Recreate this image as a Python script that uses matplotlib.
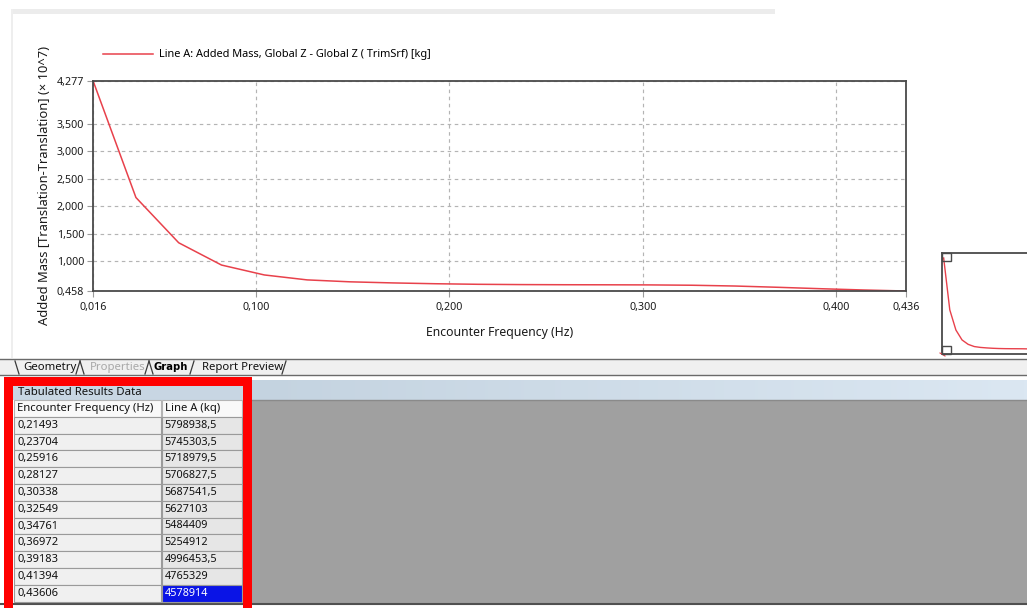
import matplotlib
matplotlib.use('Agg')
import matplotlib.pyplot as plt
from matplotlib.patches import Rectangle
from matplotlib.ticker import FixedLocator, FixedFormatter
import numpy as np

# ---------------- data ----------------
freq_hz = [0.01591, 0.03803, 0.06014, 0.08225, 0.10437, 0.12648, 0.14859, 0.17071, 0.19282,
           0.21493, 0.23704, 0.25916, 0.28127, 0.30338, 0.32549, 0.34761, 0.36972, 0.39183,
           0.41394, 0.43606]
added_mass_kg = [42770000, 21580000, 13350000, 9300000, 7500000, 6600000, 6250000, 6050000,
                 5900000, 5798938.5, 5745303.5, 5718979.5, 5706827.5, 5687541.5, 5627103,
                 5484409, 5254912, 4996453.5, 4765329, 4578914]
table_freq = ['0,21493', '0,23704', '0,25916', '0,28127', '0,30338', '0,32549', '0,34761',
              '0,36972', '0,39183', '0,41394', '0,43606']
table_mass = ['5798938,5', '5745303,5', '5718979,5', '5706827,5', '5687541,5', '5627103',
              '5484409', '5254912', '4996453,5', '4765329', '4578914']
x_ticks = [0.016, 0.100, 0.200, 0.300, 0.400, 0.436]
y_ticks = [0.458, 1.000, 1.500, 2.000, 2.500, 3.000, 3.500, 4.277]
tab_names = ['Geometry', 'Properties', 'Graph', 'Report Preview']
legend_label = 'Line A: Added Mass, Global Z - Global Z ( TrimSrf) [kg]'
x_label = 'Encounter Frequency (Hz)'
y_label = 'Added Mass [Translation-Translation] (× 10^7)'
table_title = 'Tabulated Results Data'
table_cols = ['Encounter Frequency (Hz)', 'Line A (kq)']

# ---------------- figure ----------------
plt.rcParams['font.family'] = ['Noto Sans', 'DejaVu Sans']
W, H = 1027, 608
fig = plt.figure(figsize=(W / 100, H / 100), dpi=100)
fig.patch.set_facecolor('white')


def box(x0, y0, x1, y1):
    return [x0 / W, 1 - y1 / H, (x1 - x0) / W, (y1 - y0) / H]


bg = fig.add_axes([0, 0, 1, 1], zorder=0)
bg.set_xlim(0, W)
bg.set_ylim(H, 0)
bg.axis('off')


def rect(x0, y0, x1, y1, fc, ec='none', lw=0, ax=None, z=1):
    ax = ax or bg
    ax.add_patch(Rectangle((x0, y0), x1 - x0, y1 - y0, facecolor=fc, edgecolor=ec,
                           linewidth=lw, zorder=z))


# window frame pieces
rect(12, 9, 775, 14, '#ececec')
rect(11, 9, 13, 358, '#eeeeee')

# tab strip
rect(0, 359, W, 375, '#f0f0f0')
bg.plot([0, W], [359, 359], color='#6a6a6a', lw=1, zorder=2)
bg.plot([0, W], [375, 375], color='#6a6a6a', lw=1, zorder=2)
tab_x = [23, 90, 154, 202]
tab_colors = ['#111111', '#a8a8a8', '#000000', '#111111']
tab_weights = ['normal', 'normal', 'bold', 'normal']
tab_fams = [['Noto Sans'], ['Noto Sans'], ['DejaVu Sans'], ['Noto Sans']]
tab_sizes = [8.2, 8.2, 7.2, 8.2]
for name, tx, c, wgt, fam, fs in zip(tab_names, tab_x, tab_colors, tab_weights, tab_fams, tab_sizes):
    bg.text(tx, 367.5, name, fontsize=fs, color=c, fontweight=wgt, family=fam,
            va='center', ha='left', zorder=3)
for sx in [15, 80, 149]:
    bg.plot([sx, sx + 4], [361, 374], color='#3a3a3a', lw=0.9, zorder=3)
for sx in [76, 145, 190, 282]:
    bg.plot([sx, sx + 4], [374, 361], color='#3a3a3a', lw=0.9, zorder=3)

# right gray area with light blue header band
grad = np.linspace(0, 1, 256).reshape(1, -1)
c0 = np.array([0xc4, 0xd3, 0xe0]) / 255
c1 = np.array([0xdb, 0xe7, 0xf2]) / 255
img = c0[None, None, :] * (1 - grad[..., None]) + c1[None, None, :] * grad[..., None]
bg.imshow(img, extent=(252, W, 400, 380), aspect='auto', zorder=1)
rect(252, 400, W, 603, '#a0a0a0')
bg.plot([252, W], [400, 400], color='#8a8a8a', lw=1, zorder=2)
bg.plot([0, W], [604, 604], color='#505050', lw=1.5, zorder=2)

# table
rect(13, 385, 242.7, 400, '#c8d6e3')
bg.text(18, 392.5, table_title, fontsize=8.2, color='#111111', va='center', ha='left', zorder=3)
col_x = [(13.5, 160.7), (161.7, 241.7)]
row_top = 400
row_h = 16.8
for ci, (x0, x1) in enumerate(col_x):
    rect(x0, row_top, x1, row_top + row_h, '#f9f9f9', ec='#b4b4b4', lw=0.8, z=2)
    bg.text(x0 + 3.5, row_top + row_h / 2, table_cols[ci], fontsize=8.1, color='#111111',
            va='center', ha='left', zorder=3)
for ri, (fv, mv) in enumerate(zip(table_freq, table_mass)):
    y0 = row_top + row_h * (ri + 1)
    rect(col_x[0][0], y0, col_x[0][1], y0 + row_h, '#f0f0f0', ec='#9a9a9a', lw=0.8, z=2)
    bg.text(col_x[0][0] + 3.5, y0 + row_h / 2, fv, fontsize=8, color='#111111',
            va='center', ha='left', zorder=3)
    last = ri == len(table_freq) - 1
    rect(col_x[1][0], y0, col_x[1][1], y0 + row_h, '#0a14e6' if last else '#e6e6e6',
         ec='#9a9a9a', lw=0.8, z=2)
    bg.text(col_x[1][0] + 3, y0 + row_h / 2, mv, fontsize=7.8,
            color='white' if last else '#111111', va='center', ha='left', zorder=3)

# red highlight frame
red = '#ff0000'
rect(4, 377, 13.3, 608, red, z=4)
rect(242.7, 377, 251.7, 608, red, z=4)
rect(4, 377, 251.7, 385.5, red, z=4)

# ---------------- main chart ----------------
ax = fig.add_axes(box(93.3, 81, 906, 291), zorder=2)
ax.set_facecolor('white')
y_vals = [v / 1e7 for v in added_mass_kg]
ax.plot(freq_hz, y_vals, color='#e8414b', lw=1.1, label=legend_label, zorder=2)
ax.set_xlim(x_ticks[0], x_ticks[-1])
ax.set_ylim(y_ticks[0], y_ticks[-1])
ax.xaxis.set_major_locator(FixedLocator(x_ticks))
ax.xaxis.set_major_formatter(FixedFormatter([f'{v:.3f}'.replace('.', ',') for v in x_ticks]))
ax.yaxis.set_major_locator(FixedLocator(y_ticks))
ax.yaxis.set_major_formatter(FixedFormatter([f'{v:.3f}'.replace('.', ',') for v in y_ticks]))
ax.grid(True, color='#b4b4b4', lw=0.85, linestyle=(0, (3, 3)))
ax.tick_params(direction='out', length=4, width=0.8, color='#9a9a9a', labelsize=7.7,
               labelcolor='#1a1a1a', pad=2.5)
ax.tick_params(axis='x', pad=4)
for sp in ax.spines.values():
    sp.set_color('#4a4a4a')
    sp.set_linewidth(1.3)
ax.set_xlabel(x_label, fontsize=8.8, color='#1a1a1a')
ax.set_ylabel(y_label, fontsize=9.3, color='#1a1a1a')
ax.xaxis.set_label_coords(0.5, (291 - 332) / 210)
ax.xaxis.label.set_verticalalignment('center')
ax.yaxis.set_label_coords((45 - 93.3) / 812.7, (291 - 185) / 210)
ax.yaxis.label.set_verticalalignment('center')
ax.legend(loc='center left', bbox_to_anchor=(103 / W, 1 - 55 / H),
          bbox_transform=fig.transFigure, frameon=False, fontsize=7.9, borderpad=0,
          borderaxespad=0, handlelength=4.6, handletextpad=0.5)

# ---------------- thumbnail ----------------
ax2 = fig.add_axes(box(942.3, 252.7, 1060, 354), zorder=2)
ax2.set_facecolor('white')
ax2.plot(freq_hz, y_vals, color='#e8414b', lw=1.0)
ax2.set_xlim(0.0110, 0.436)
ax2.set_ylim(0.356, 4.493)
ax2.set_xticks([])
ax2.set_yticks([])
for sp in ax2.spines.values():
    sp.set_color('#4a4a4a')
    sp.set_linewidth(1.3)

ov = fig.add_axes([0, 0, 1, 1], zorder=5)
ov.set_xlim(0, W)
ov.set_ylim(H, 0)
ov.axis('off')
ov.patch.set_alpha(0)
rect(942.3, 252.7, 950.5, 260.5, 'none', ec='#4a4a4a', lw=1.0, ax=ov, z=6)
rect(942.3, 346.2, 950.5, 354, 'none', ec='#4a4a4a', lw=1.0, ax=ov, z=6)
ov.plot([940, 945], [353, 356], color='#e8414b', lw=0.8)

fig.savefig('out.png', dpi=100, facecolor='white')
